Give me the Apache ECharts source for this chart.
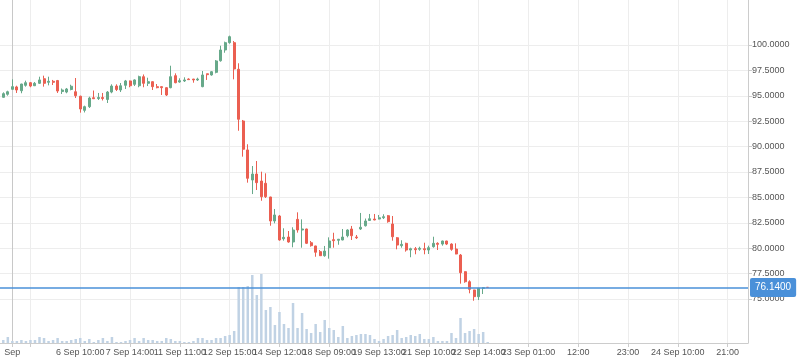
<!DOCTYPE html>
<html>
<head>
<meta charset="utf-8">
<script src="https://cdn.jsdelivr.net/npm/echarts@6/dist/echarts.min.js"></script>
<style>
html,body{margin:0;padding:0;background:#fff;}
#chart{width:798px;height:363px;}
</style>
</head>
<body>
<div id="chart"></div>
<script>
// ---- data ----
const SLOT_COUNT = 166; // hourly slots shown on the axis (data + empty future)
const tickIndex = [3, 7, 18, 29, 40, 51, 62, 73, 84, 95, 106, 117, 128, 139, 150, 161];
const tickLabels = ['Sep', '', '6 Sep 10:00', '7 Sep 14:00', '11 Sep 11:00', '12 Sep 15:00', '14 Sep 12:00',
  '18 Sep 09:00', '19 Sep 13:00', '21 Sep 10:00', '22 Sep 14:00', '23 Sep 01:00', '12:00', '23:00',
  '24 Sep 10:00', '21:00'];

const opens = [94.56,94.85,95.15,95.64,95.87,95.50,96.03,96.29,95.99,96.23,96.68,96.33,96.43,96.50,95.42,95.37,95.62,95.40,94.96,93.57,
  93.93,94.81,94.73,94.83,94.64,95.37,95.96,95.57,96.03,96.46,96.13,95.99,96.88,96.23,96.39,95.90,95.90,95.80,95.80,96.98,
  96.36,96.46,96.65,96.65,96.56,95.90,97.17,97.05,97.31,98.45,99.51,100.23,100.23,97.61,92.52,89.67,86.71,87.30,86.61,86.39,
  85.04,82.68,83.17,80.93,81.10,80.61,82.84,81.79,81.89,80.54,80.22,79.66,79.26,80.05,80.84,80.78,80.81,81.23,81.89,81.10,
  81.89,82.21,82.73,82.87,82.87,83.00,83.20,82.38,81.03,80.25,80.48,79.82,79.95,79.89,79.95,79.82,80.15,80.48,80.41,80.71,
  80.41,79.92,79.33,77.69,76.70,75.89,75.23,76.05,76.15];
const closes = [94.85,95.21,95.40,95.90,95.57,96.16,96.29,95.96,96.23,96.56,96.23,96.43,96.33,95.47,95.57,95.67,95.94,95.01,93.70,93.93,
  94.78,94.71,94.83,94.73,95.37,95.96,95.62,95.99,96.46,95.99,96.56,96.88,96.23,96.39,95.90,95.80,95.80,95.08,96.88,96.29,
  96.49,96.56,96.59,96.56,96.65,97.05,97.08,97.37,98.43,99.51,100.23,100.82,97.64,92.69,89.74,86.88,87.30,86.45,85.07,85.07,
  82.68,83.27,80.81,81.07,80.61,81.79,81.79,81.89,80.48,80.25,79.60,79.26,79.72,80.71,80.74,80.88,81.10,81.79,81.23,81.03,
  82.06,82.68,82.90,82.78,83.00,83.10,82.61,81.13,80.31,80.38,79.82,79.95,79.85,79.99,79.85,80.05,80.48,80.38,80.71,80.41,
  79.89,79.43,77.59,76.70,75.95,75.23,76.05,76.11,76.14];
const highs = [94.91,95.34,95.50,96.62,95.99,96.18,96.49,96.36,96.36,96.88,96.98,96.88,96.56,96.56,95.72,95.77,96.09,96.75,95.01,94.03,
  94.91,95.52,95.28,95.28,95.47,96.13,96.13,96.26,96.56,96.50,96.62,96.98,97.10,96.78,96.42,96.16,95.92,95.84,97.96,97.21,
  96.72,96.82,96.72,96.66,96.78,97.44,97.18,97.44,98.52,99.93,100.33,100.92,100.39,98.20,92.62,90.23,88.09,88.58,87.53,87.37,
  85.06,83.86,83.27,81.96,81.69,82.06,83.53,82.84,81.92,80.71,80.24,79.82,80.22,81.07,81.52,80.91,81.89,81.86,82.19,81.30,
  83.47,82.92,83.37,83.37,83.27,83.34,83.27,83.17,81.10,80.78,80.54,80.05,80.12,80.15,80.54,80.25,81.13,80.58,80.74,80.73,
  80.48,80.48,79.43,77.72,76.84,75.91,76.07,76.15,76.15];
const lows = [94.49,94.81,95.01,95.57,95.28,95.25,95.90,95.84,95.96,96.16,95.90,96.03,96.06,95.28,95.18,95.25,95.54,94.78,93.34,93.36,
  93.80,94.69,94.59,94.54,94.29,95.25,95.47,95.37,95.67,95.84,95.96,95.84,95.84,95.96,95.57,95.74,95.08,94.98,95.74,96.23,
  96.29,96.36,96.56,96.29,96.46,95.84,96.56,96.98,97.21,98.36,99.24,100.13,96.62,91.56,89.01,86.45,85.33,85.73,84.67,84.94,
  82.21,82.45,80.74,80.74,80.54,80.09,81.53,80.05,80.41,80.15,79.16,79.23,79.16,78.97,80.05,80.34,80.78,81.07,80.81,80.91,
  81.79,82.13,82.68,82.75,82.84,82.87,82.51,80.74,79.89,80.05,79.66,79.11,79.40,79.75,79.40,79.43,80.05,79.82,80.25,80.31,
  79.75,79.40,76.51,76.60,75.56,74.83,74.90,75.49,76.14];
const volumes = [2,3,6,2,2,3,2,3,3,6,5,2,3,5,2,2,3,4,5,2,
  4,1,3,5,2,6,1,1,2,3,5,2,5,3,3,2,2,5,4,2,
  2,1,1,2,5,5,3,3,5,5,7,8,12,56,56,57,68,48,69,33,
  36,18,31,19,15,40,15,30,14,10,19,11,23,15,13,6,17,5,7,8,
  9,9,8,4,2,4,7,8,13,5,6,8,7,9,4,4,6,2,2,2,
  10,5,25,10,12,14,9,11,1];
const lastPrice = 76.14;
const priceTicks = {min: 75, max: 100, step: 2.5};

// ---- build ----
const labelMap = {};
tickIndex.forEach((idx, k) => { labelMap[idx] = tickLabels[k]; });
const categories = Array.from({length: SLOT_COUNT}, (_, i) => (i in labelMap ? labelMap[i] : ''));
const tickSet = new Set(tickIndex);
const showTick = (idx) => tickSet.has(idx);
const candleData = opens.map((o, i) => [o, closes[i], lows[i], highs[i]]);

const FONT = '"Liberation Sans", Arial, sans-serif';
const BLUE = '#4a90d9';
const gridL = -3.5, gridR = 50;

const chart = echarts.init(document.getElementById('chart'), null, {renderer: 'canvas'});
chart.setOption({
  animation: false,
  backgroundColor: '#ffffff',
  grid: [
    {left: gridL, right: gridR, top: 45, bottom: 64, outerBoundsMode: 'none', containLabel: false},
    {left: gridL, right: gridR, top: 263, bottom: 20, outerBoundsMode: 'none', containLabel: false},
    {left: gridL, right: gridR, top: 0, bottom: 20, outerBoundsMode: 'none', containLabel: false}
  ],
  xAxis: [
    {type: 'category', gridIndex: 0, data: categories, boundaryGap: true, show: false},
    {type: 'category', gridIndex: 1, data: categories, boundaryGap: true, show: false},
    {
      type: 'category', gridIndex: 2, data: categories, boundaryGap: true,
      axisLine: {show: true, lineStyle: {color: '#cccccc', width: 1}},
      axisTick: {show: true, alignWithLabel: true, interval: showTick, length: 4, lineStyle: {color: '#cccccc'}},
      axisLabel: {show: true, interval: showTick, margin: 5, fontSize: 9, color: '#555555', fontFamily: FONT},
      splitLine: {show: true, interval: showTick, alignWithLabel: true,
        lineStyle: {width: 1, color: ['#c8c8c8'].concat(Array(20).fill('#ededed'))}}
    }
  ],
  yAxis: [
    {
      type: 'value', gridIndex: 0, position: 'right',
      min: priceTicks.min, max: priceTicks.max, interval: priceTicks.step,
      axisLine: {show: false},
      axisTick: {show: true, length: 4, lineStyle: {color: '#cccccc'}},
      axisLabel: {show: true, margin: 4, fontSize: 9, color: '#555555', fontFamily: FONT,
        formatter: (v) => v.toFixed(4)},
      splitLine: {show: true, lineStyle: {color: '#ededed', width: 1}}
    },
    {type: 'value', gridIndex: 1, min: 0, max: 80, show: false},
    {
      type: 'value', gridIndex: 2, position: 'right', min: 0, max: 1,
      axisLine: {show: true, lineStyle: {color: '#cccccc', width: 1}},
      axisTick: {show: false}, axisLabel: {show: false}, splitLine: {show: false}
    }
  ],
  series: [
    {
      type: 'bar', xAxisIndex: 1, yAxisIndex: 1, data: volumes,
      barWidth: 2.5, itemStyle: {color: '#c0d2e4'}, z: 1, silent: true
    },
    {
      type: 'candlestick', xAxisIndex: 0, yAxisIndex: 0, data: candleData,
      clip: false, barWidth: 2.5, z: 3, silent: true,
      itemStyle: {
        color: '#67a98a', color0: '#eb5f51',
        borderColor: '#67a98a', borderColor0: '#eb5f51', borderWidth: 1
      }
    },
    {
      // carrier series for the last-price line
      type: 'line', xAxisIndex: 0, yAxisIndex: 0, data: categories.map(() => null),
      z: 5, silent: true, showSymbol: false,
      color: BLUE,
      lineStyle: {color: BLUE},
      itemStyle: {color: BLUE},
      markLine: {
        silent: true, symbol: ['none', 'none'], animation: false,
        data: [{yAxis: lastPrice}],
        lineStyle: {color: BLUE, width: 1.5, type: 'solid', opacity: 1},
        label: {
          show: true, position: 'end', distance: 2,
          formatter: () => lastPrice.toFixed(4),
          backgroundColor: BLUE, color: '#ffffff', fontSize: 10, fontFamily: FONT,
          padding: [5, 5, 4, 5], borderRadius: 2
        },
        emphasis: {disabled: true}
      }
    }
  ]
});
</script>
</body>
</html>
